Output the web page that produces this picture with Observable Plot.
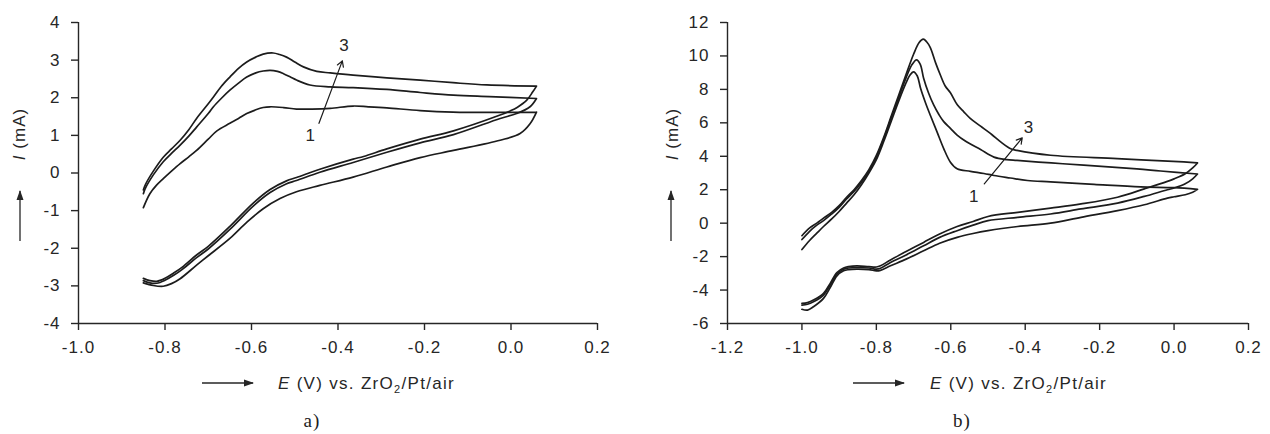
<!DOCTYPE html>
<html><head><meta charset="utf-8">
<script src="https://cdn.jsdelivr.net/npm/d3@7"></script>
<script src="https://cdn.jsdelivr.net/npm/@observablehq/plot@0.6"></script>
<style>
body{margin:0;background:#fff;width:1270px;height:434px;overflow:hidden;font-family:"Liberation Sans",Arial,sans-serif;}
#wrap{position:relative;width:1270px;height:434px;}
#wrap svg{position:absolute;top:0;}
</style></head><body><div id="wrap"></div>
<script>
// ---------- Panel a) data : E (V), I (mA) ----------
const aXTicks = [-1.0, -0.8, -0.6, -0.4, -0.2, 0.0, 0.2];
const aYTicks = [-4, -3, -2, -1, 0, 1, 2, 3, 4];
const aUp1 = [[-0.85,-0.92],[-0.835,-0.55],[-0.82,-0.33],[-0.804,-0.15],[-0.785,0.05],[-0.765,0.25],[-0.745,0.43],[-0.727,0.60],[-0.70,0.90],[-0.68,1.12],[-0.65,1.32],[-0.63,1.45],[-0.611,1.58],[-0.59,1.68],[-0.573,1.74],[-0.557,1.76],[-0.526,1.74],[-0.496,1.70],[-0.46,1.70],[-0.418,1.72],[-0.365,1.78],[-0.33,1.76],[-0.287,1.73],[-0.21,1.66],[-0.134,1.62],[-0.056,1.61],[0.059,1.62]];
const aUp2 = [[-0.85,-0.55],[-0.846,-0.42],[-0.827,-0.05],[-0.804,0.30],[-0.785,0.52],[-0.765,0.74],[-0.745,0.98],[-0.727,1.22],[-0.70,1.58],[-0.688,1.76],[-0.67,1.98],[-0.65,2.20],[-0.63,2.39],[-0.611,2.55],[-0.59,2.66],[-0.573,2.71],[-0.557,2.73],[-0.54,2.70],[-0.526,2.64],[-0.51,2.55],[-0.496,2.47],[-0.465,2.34],[-0.418,2.29],[-0.365,2.27],[-0.287,2.22],[-0.21,2.14],[-0.133,2.07],[-0.05,2.03],[0.059,1.98]];
const aUp3 = [[-0.85,-0.45],[-0.845,-0.30],[-0.827,0.05],[-0.804,0.42],[-0.785,0.64],[-0.765,0.87],[-0.745,1.15],[-0.727,1.45],[-0.70,1.84],[-0.688,2.02],[-0.67,2.30],[-0.65,2.55],[-0.63,2.78],[-0.611,2.95],[-0.59,3.08],[-0.573,3.16],[-0.55,3.19],[-0.535,3.15],[-0.519,3.08],[-0.50,2.95],[-0.48,2.82],[-0.449,2.70],[-0.418,2.66],[-0.365,2.60],[-0.287,2.53],[-0.21,2.47],[-0.134,2.40],[-0.056,2.34],[0.059,2.31]];
const aDown1 = [[0.059,1.62],[0.044,1.31],[0.021,1.05],[-0.025,0.87],[-0.133,0.60],[-0.21,0.41],[-0.287,0.16],[-0.365,-0.11],[-0.442,-0.33],[-0.496,-0.50],[-0.534,-0.68],[-0.573,-0.95],[-0.61,-1.30],[-0.65,-1.74],[-0.70,-2.20],[-0.727,-2.45],[-0.765,-2.81],[-0.785,-2.94],[-0.804,-3.01],[-0.827,-2.99],[-0.85,-2.92]];
const aDown2 = [[0.059,1.98],[0.044,1.76],[0.013,1.58],[-0.025,1.45],[-0.133,1.02],[-0.21,0.80],[-0.287,0.55],[-0.365,0.28],[-0.442,0.02],[-0.496,-0.20],[-0.52,-0.29],[-0.557,-0.52],[-0.596,-0.88],[-0.65,-1.50],[-0.70,-2.02],[-0.727,-2.25],[-0.76,-2.56],[-0.78,-2.72],[-0.80,-2.85],[-0.819,-2.93],[-0.835,-2.92],[-0.85,-2.86]];
const aDown3 = [[0.059,2.31],[0.05,2.15],[0.036,1.93],[0.015,1.75],[-0.002,1.65],[-0.03,1.52],[-0.133,1.12],[-0.21,0.90],[-0.287,0.64],[-0.341,0.44],[-0.365,0.37],[-0.442,0.10],[-0.496,-0.12],[-0.519,-0.21],[-0.557,-0.44],[-0.596,-0.80],[-0.65,-1.42],[-0.70,-1.95],[-0.727,-2.18],[-0.76,-2.50],[-0.78,-2.66],[-0.80,-2.80],[-0.819,-2.88],[-0.835,-2.86],[-0.85,-2.80]];
const aNote = [{t:"3", E:-0.385, I:3.38}, {t:"1", E:-0.463, I:0.99}];
const aArrow = [{E1:-0.444, I1:1.32, E2:-0.39, I2:2.98}];

// ---------- Panel b) data ----------
const bXTicks = [-1.2, -1.0, -0.8, -0.6, -0.4, -0.2, 0.0, 0.2];
const bYTicks = [-6, -4, -2, 0, 2, 4, 6, 8, 10, 12];
const bUp1 = [[-1.0,-1.58],[-0.98,-1.05],[-0.96,-0.6],[-0.942,-0.2],[-0.92,0.25],[-0.90,0.7],[-0.88,1.2],[-0.86,1.7],[-0.84,2.3],[-0.82,3.0],[-0.80,3.8],[-0.78,4.9],[-0.76,6.1],[-0.74,7.3],[-0.72,8.4],[-0.71,8.85],[-0.70,9.05],[-0.69,8.8],[-0.681,8.05],[-0.668,7.2],[-0.655,6.45],[-0.637,5.46],[-0.619,4.46],[-0.601,3.65],[-0.583,3.25],[-0.547,3.1],[-0.511,2.97],[-0.484,2.85],[-0.44,2.7],[-0.394,2.55],[-0.332,2.47],[-0.215,2.32],[-0.09,2.17],[0.0,2.12],[0.063,2.02]];
const bUp2 = [[-1.0,-0.98],[-0.98,-0.5],[-0.96,-0.12],[-0.942,0.15],[-0.92,0.55],[-0.90,0.95],[-0.88,1.45],[-0.86,1.9],[-0.84,2.45],[-0.82,3.1],[-0.80,3.95],[-0.78,5.05],[-0.76,6.3],[-0.74,7.5],[-0.72,8.7],[-0.705,9.45],[-0.692,9.77],[-0.682,9.5],[-0.673,8.67],[-0.66,7.8],[-0.646,7.07],[-0.632,6.5],[-0.619,6.07],[-0.601,5.67],[-0.583,5.27],[-0.56,4.9],[-0.52,4.4],[-0.484,3.95],[-0.45,3.8],[-0.422,3.75],[-0.33,3.6],[-0.243,3.47],[-0.1,3.25],[-0.036,3.12],[0.063,2.94]];
const bUp3 = [[-1.0,-0.75],[-0.98,-0.3],[-0.96,0.0],[-0.942,0.3],[-0.92,0.65],[-0.90,1.05],[-0.88,1.55],[-0.86,2.0],[-0.84,2.55],[-0.82,3.2],[-0.80,4.05],[-0.78,5.15],[-0.76,6.4],[-0.74,7.65],[-0.72,8.9],[-0.70,10.1],[-0.685,10.8],[-0.674,11.0],[-0.665,10.85],[-0.655,10.5],[-0.641,9.6],[-0.628,8.86],[-0.615,8.2],[-0.601,7.8],[-0.583,7.1],[-0.565,6.66],[-0.547,6.25],[-0.52,5.8],[-0.49,5.3],[-0.466,4.86],[-0.439,4.45],[-0.422,4.35],[-0.332,4.06],[-0.153,3.86],[0.026,3.66],[0.063,3.6]];
const bDown1 = [[0.063,2.02],[0.05,1.85],[0.03,1.7],[0.0,1.58],[-0.018,1.5],[-0.08,1.1],[-0.152,0.75],[-0.25,0.35],[-0.332,0.0],[-0.42,-0.2],[-0.5,-0.45],[-0.54,-0.62],[-0.583,-0.85],[-0.63,-1.2],[-0.673,-1.65],[-0.72,-2.15],[-0.762,-2.55],[-0.789,-2.82],[-0.80,-2.85],[-0.82,-2.78],[-0.852,-2.75],[-0.875,-2.78],[-0.888,-2.85],[-0.906,-3.15],[-0.924,-3.85],[-0.942,-4.5],[-0.969,-5.0],[-0.985,-5.2],[-1.0,-5.15]];
const bDown2 = [[0.063,2.94],[0.05,2.65],[0.03,2.35],[0.0,2.1],[-0.018,2.0],[-0.08,1.6],[-0.152,1.2],[-0.25,0.85],[-0.332,0.55],[-0.42,0.35],[-0.5,0.15],[-0.54,-0.12],[-0.583,-0.45],[-0.63,-0.85],[-0.673,-1.35],[-0.72,-1.9],[-0.762,-2.35],[-0.789,-2.7],[-0.80,-2.75],[-0.82,-2.68],[-0.852,-2.65],[-0.875,-2.68],[-0.888,-2.75],[-0.906,-3.05],[-0.924,-3.7],[-0.942,-4.3],[-0.969,-4.7],[-0.985,-4.85],[-1.0,-4.9]];
const bDown3 = [[0.063,3.6],[0.05,3.3],[0.03,2.95],[0.0,2.65],[-0.018,2.5],[-0.08,2.05],[-0.152,1.55],[-0.25,1.15],[-0.332,0.9],[-0.42,0.65],[-0.5,0.4],[-0.54,0.1],[-0.583,-0.2],[-0.63,-0.65],[-0.673,-1.15],[-0.72,-1.7],[-0.762,-2.2],[-0.789,-2.55],[-0.80,-2.62],[-0.82,-2.6],[-0.852,-2.55],[-0.875,-2.6],[-0.888,-2.68],[-0.906,-2.95],[-0.924,-3.6],[-0.942,-4.2],[-0.969,-4.6],[-0.985,-4.75],[-1.0,-4.8]];
const bNote = [{t:"3", E:-0.39, I:5.72}, {t:"1", E:-0.537, I:1.57}];
const bArrow = [{E1:-0.51, I1:2.35, E2:-0.408, I2:5.1}];

// ---------- build ----------
function cycles(list) {
  const rows = [];
  list.forEach(([up, down], i) => {
    up.concat(down).forEach(([E, I]) => rows.push({E, I, cycle: i + 1}));
  });
  return rows;
}
const aData = cycles([[aUp1, aDown1], [aUp2, aDown2], [aUp3, aDown3]]);
const bData = cycles([[bUp1, bDown1], [bUp2, bDown2], [bUp3, bDown3]]);

const INK = "#1c1c1c";
function panel({data, xTicks, yTicks, notes, arrows, left, mL, mR}) {
  const xd = [xTicks[0], xTicks[xTicks.length - 1]];
  const yd = [yTicks[0], yTicks[yTicks.length - 1]];
  const svg = Plot.plot({
    width: 635, height: 434,
    marginLeft: mL, marginRight: mR, marginTop: 22, marginBottom: 111,
    style: {fontFamily: "'Liberation Sans', Arial, sans-serif", fontSize: "17px", color: "#262626", background: "transparent", overflow: "visible", letterSpacing: "1px"},
    x: {domain: xd, label: null},
    y: {domain: yd, label: null},
    marks: [
      Plot.axisX({ticks: xTicks, tickFormat: d => d.toFixed(1), tickSize: 7, tickPadding: 10, label: null, strokeWidth: 1.4}),
      Plot.axisY({ticks: yTicks, tickFormat: d => String(d), tickSize: 7, tickPadding: 11, label: null, strokeWidth: 1.4}),
      Plot.ruleX([xd[0]], {stroke: "#262626", strokeWidth: 1.4}),
      Plot.ruleY([yd[0]], {stroke: "#262626", strokeWidth: 1.4}),
      Plot.line(data, {x: "E", y: "I", z: "cycle", stroke: INK, strokeWidth: 1.7, strokeLinejoin: "round", curve: "catmull-rom"}),
      Plot.arrow(arrows, {x1: "E1", y1: "I1", x2: "E2", y2: "I2", stroke: INK, strokeWidth: 1.2, headLength: 8}),
      Plot.text(notes, {x: "E", y: "I", text: "t", fontSize: 17, fill: "#262626"})
    ]
  });
  svg.style.left = left + "px";
  return svg;
}

const wrap = document.getElementById("wrap");
const svgA = panel({data: aData, xTicks: aXTicks, yTicks: aYTicks, notes: aNote, arrows: aArrow, left: 0, mL: 78, mR: 38});
const svgB = panel({data: bData, xTicks: bXTicks, yTicks: bYTicks, notes: bNote, arrows: bArrow, left: 635, mL: 92, mR: 22});
wrap.appendChild(svgA);
wrap.appendChild(svgB);

// ---------- axis titles, arrows, panel labels ----------
function decorate(svg, id, o) {
  const s = d3.select(svg);
  const g = s.append("g").attr("text-anchor", "start");
  s.append("defs").append("marker")
    .attr("id", id).attr("viewBox", "0 0 10 10").attr("refX", 9).attr("refY", 5)
    .attr("markerWidth", 10).attr("markerHeight", 10).attr("markerUnits", "userSpaceOnUse")
    .attr("orient", "auto")
    .append("path").attr("d", "M0,1.5L10,5L0,8.5Z").attr("fill", "#262626");
  // x title arrow
  g.append("line").attr("x1", o.xa1).attr("x2", o.xa2).attr("y1", 383).attr("y2", 383)
    .attr("stroke", "#262626").attr("stroke-width", 1.3).attr("marker-end", `url(#${id})`);
  const t = g.append("text").attr("x", o.xt).attr("y", 389).attr("text-anchor", "start")
    .attr("font-family", "'Liberation Sans', Arial, sans-serif").attr("font-size", 17)
    .attr("fill", "#262626").style("letter-spacing", "1.3px");
  t.append("tspan").attr("font-style", "italic").text("E");
  t.append("tspan").text(" (V) vs. ZrO");
  t.append("tspan").attr("font-size", 11).attr("dy", 4).text("2");
  t.append("tspan").attr("dy", -4).text("/Pt/air");
  // y title arrow
  g.append("line").attr("x1", o.ya).attr("x2", o.ya).attr("y1", 241).attr("y2", 191)
    .attr("stroke", "#262626").attr("stroke-width", 1.3).attr("marker-end", `url(#${id})`);
  const yt = g.append("text").attr("transform", `translate(${o.yt},134) rotate(-90)`)
    .attr("text-anchor", "middle")
    .attr("font-family", "'Liberation Sans', Arial, sans-serif").attr("font-size", 17)
    .attr("fill", "#262626").style("letter-spacing", "1px");
  yt.append("tspan").attr("font-style", "italic").text("I");
  yt.append("tspan").text(" (mA)");
  // panel label
  g.append("text").attr("x", o.pl).attr("y", 427).attr("text-anchor", "middle")
    .attr("font-family", "'Liberation Serif', 'Times New Roman', serif").attr("font-size", 19)
    .attr("fill", "#1c1c1c").text(o.label);
}
decorate(svgA, "arrA", {xa1: 202, xa2: 253, xt: 278, ya: 20, yt: 25, pl: 312, label: "a)"});
decorate(svgB, "arrB", {xa1: 218, xa2: 269, xt: 295, ya: 36, yt: 43, pl: 327, label: "b)"});
</script></body></html>
